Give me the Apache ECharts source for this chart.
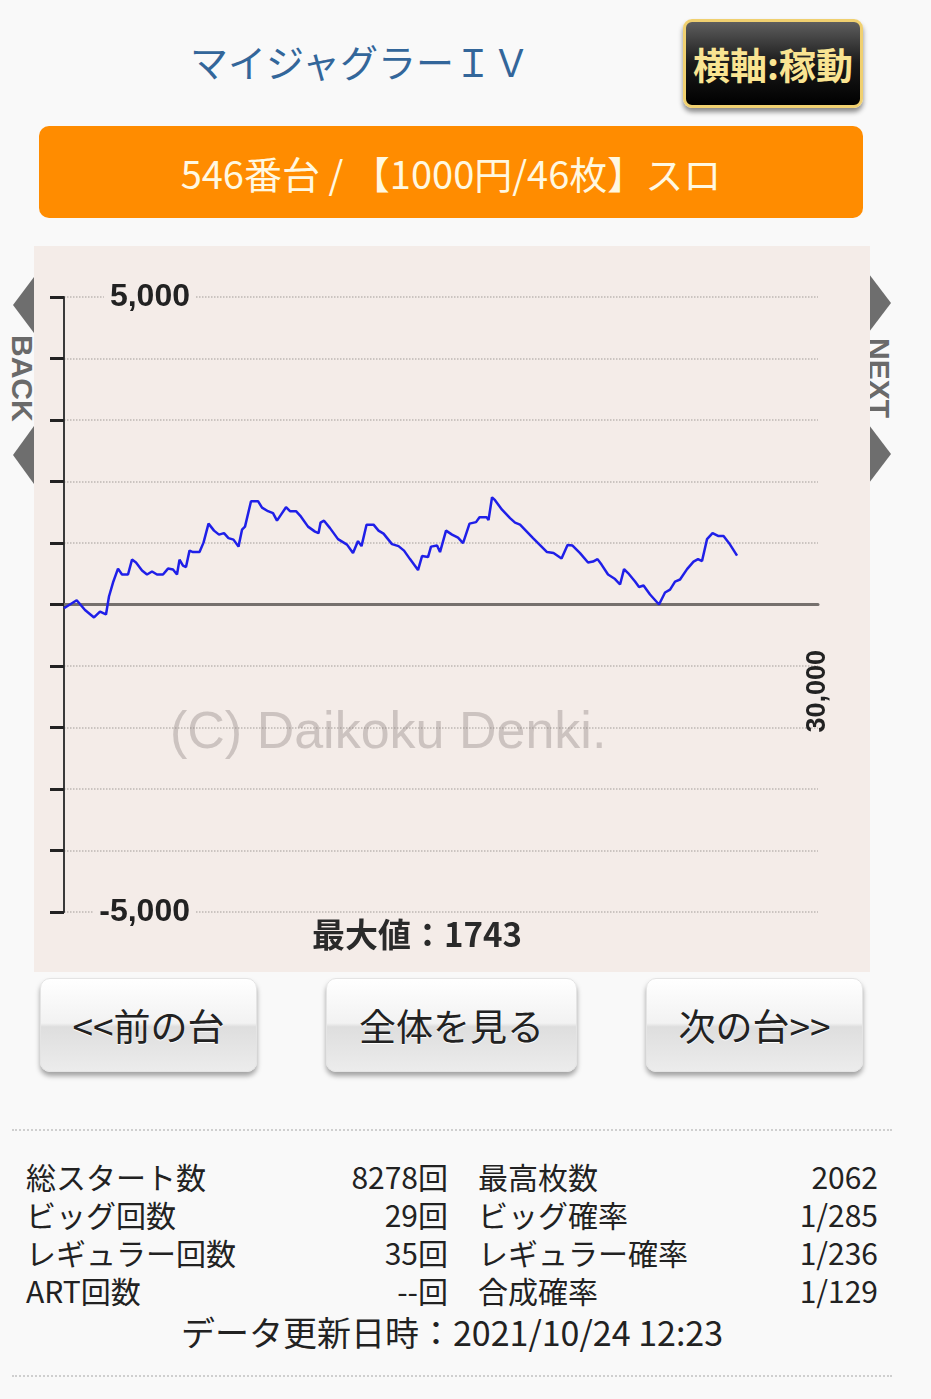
<!DOCTYPE html>
<html>
<head>
<meta charset="utf-8">
<script src="https://cdn.jsdelivr.net/npm/echarts@6/dist/echarts.min.js"></script>
<style>
  html, body { margin: 0; padding: 0; }
  body { width: 931px; height: 1399px; background: #f9f9f9; position: relative; overflow: hidden;
         font-family: "Noto Sans CJK JP", "Noto Sans", sans-serif; }
  .abs { position: absolute; }
  .title { left: 150px; top: 20px; width: 420px; height: 80px; display: flex; align-items: center; justify-content: center;
           color: #33669a; font-size: 38px; }
  .axisbtn { left: 683px; top: 19px; width: 180px; height: 89px; box-sizing: border-box; border: 3px solid #f0d070; border-radius: 9px;
             background: linear-gradient(#5e5e5e, #1a1a1a 50%, #000); box-shadow: 0 4px 5px rgba(0,0,0,.45);
             display: flex; align-items: center; justify-content: center; color: #f9e492; font-size: 37px; font-weight: bold; }
  .bar { left: 39px; top: 126px; width: 824px; height: 92px; background: #ff8c00; border-radius: 10px;
         display: flex; align-items: center; justify-content: center; color: #fff8e1; font-size: 38px; }
  #chart { left: 34px; top: 246px; width: 836px; height: 726px; }
  .tri { width: 0; height: 0; }
  .side { color: #6a6a6a; font-family: "Liberation Sans", Arial, sans-serif; font-weight: bold; font-size: 30px;
          writing-mode: vertical-rl; line-height: 24px; }
  .btn { top: 978px; height: 94px; box-sizing: border-box; border-radius: 10px; border: 1px solid #e4e4e4;
         background: linear-gradient(#ffffff, #f2f2f2 48%, #dedede 52%, #ececec);
         box-shadow: 0 4px 5px rgba(0,0,0,.35); display: flex; align-items: center; justify-content: center;
         color: #222; font-size: 37px; text-shadow: 0 1px 1px #fff; }
  .sep { left: 12px; width: 880px; height: 0; border-top: 2px dotted #cfcfcf; }
  .cell { height: 38px; line-height: 38px; font-size: 30px; color: #222; white-space: nowrap; }
  .r { text-align: right; }
</style>
</head>
<body>
<div class="abs title">マイジャグラーＩＶ</div>
<div class="abs axisbtn">横軸:稼動</div>
<div class="abs bar">546番台 / 【1000円/46枚】スロ</div>

<!-- side arrows -->
<div class="abs tri" style="left:13px;top:277px;border-top:28px solid transparent;border-bottom:28px solid transparent;border-right:21px solid #6e6e6e;"></div>
<div class="abs side" style="left:10px;top:335px;">BACK</div>
<div class="abs tri" style="left:13px;top:426px;border-top:29px solid transparent;border-bottom:29px solid transparent;border-right:21px solid #6e6e6e;"></div>
<div class="abs tri" style="left:869px;top:274px;border-top:29px solid transparent;border-bottom:29px solid transparent;border-left:22px solid #6e6e6e;"></div>
<div class="abs side" style="left:867px;top:338px;">NEXT</div>
<div class="abs tri" style="left:869px;top:425px;border-top:29px solid transparent;border-bottom:29px solid transparent;border-left:22px solid #6e6e6e;"></div>

<div id="chart" class="abs"></div>

<div class="abs btn" style="left:40px;width:217px;">&lt;&lt;前の台</div>
<div class="abs btn" style="left:326px;width:251px;">全体を見る</div>
<div class="abs btn" style="left:646px;width:217px;">次の台&gt;&gt;</div>

<div class="abs sep" style="top:1129px;"></div>
<div id="stats"></div>
<div class="abs sep" style="top:1375px;"></div>

<script>
// ---- data ----
// horizontal axis: 稼動 (play amount), vertical axis: 差枚 (coin difference)
const playCounts = [0, 505, 836, 1194, 1432, 1671, 1790, 1950, 2149, 2308, 2547, 2706, 2865, 3104, 3303, 3502, 3700, 3939, 4138, 4337,
  4496, 4596, 4735, 4854, 4994, 5133, 5392, 5551, 5750, 5969, 6168, 6366, 6545, 6744, 6943, 7083, 7202, 7441, 7719, 7879,
  8117, 8316, 8475, 8635, 8833, 8992, 9231, 9430, 9709, 9987, 10127, 10206, 10345, 10584, 10902, 11260, 11499, 11698, 11838, 12037,
  12315, 12514, 12713, 13051, 13310, 13529, 13767, 14086, 14165, 14245, 14484, 14603, 14842, 14961, 15200, 15439, 15678, 15877, 16135, 16394,
  16533, 16812, 16891, 17031, 17150, 17428, 17747, 17946, 18145, 18662, 19219, 19478, 19796, 20035, 20234, 20532, 20850, 21049, 21228, 21387,
  21646, 21925, 22124, 22283, 22442, 22721, 22880, 23059, 23317, 23675, 23914, 24113, 24312, 24511, 24790, 25048, 25227, 25386, 25585, 25804,
  26043, 26242, 26501, 26779];
const coinDiff = [-60, 70, -90, -211, -114, -162, 130, 357, 584, 487, 487, 730, 682, 552, 487, 536, 487, 487, 584, 568,
  487, 730, 633, 609, 876, 852, 852, 1006, 1315, 1201, 1136, 1160, 1079, 1055, 941, 1217, 1266, 1680, 1680, 1574,
  1517, 1485, 1363, 1461, 1582, 1517, 1517, 1428, 1266, 1185, 1160, 1331, 1363, 1242, 1063, 974, 836, 1031, 949, 1298,
  1298, 1201, 1152, 982, 949, 876, 738, 560, 536, 787, 771, 941, 958, 852, 1201, 1136, 1087, 998, 1315, 1339,
  1420, 1420, 1371, 1743, 1696, 1542, 1404, 1331, 1298, 1079, 852, 836, 747, 966, 958, 836, 682, 698, 738, 649,
  487, 414, 325, 576, 511, 373, 284, 308, 162, 0, 195, 243, 373, 406, 576, 698, 738, 706, 1063, 1160,
  1112, 1112, 974, 795];
const yTicks = [-5000, 5000];          // labelled y ticks
const xMaxLabel = 30000;               // labelled x tick
const watermark = "(C) Daikoku Denki.";

// stats table
const statLabelsL = ["総スタート数", "ビッグ回数", "レギュラー回数", "ART回数"];
const statValuesL = ["8278回", "29回", "35回", "--回"];
const statLabelsR = ["最高枚数", "ビッグ確率", "レギュラー確率", "合成確率"];
const statValuesR = ["2062", "1/285", "1/236", "1/129"];
const updated = "データ更新日時：2021/10/24 12:23";

// ---- stats layout ----
(function () {
  const host = document.getElementById('stats');
  const rowTop = [1157, 1195, 1233, 1271];
  let html = '';
  for (let i = 0; i < 4; i++) {
    html += `<div class="abs cell" style="left:26px;top:${rowTop[i]}px;">${statLabelsL[i]}</div>`;
    html += `<div class="abs cell r" style="left:250px;width:198px;top:${rowTop[i]}px;">${statValuesL[i]}</div>`;
    html += `<div class="abs cell" style="left:478px;top:${rowTop[i]}px;">${statLabelsR[i]}</div>`;
    html += `<div class="abs cell r" style="left:680px;width:198px;top:${rowTop[i]}px;">${statValuesR[i]}</div>`;
  }
  html += `<div class="abs cell" style="left:0;width:904px;text-align:center;top:1313px;font-size:34px;">${updated}</div>`;
  host.innerHTML = html;
})();

// ---- chart ----
const chart = echarts.init(document.getElementById('chart'), null, { renderer: 'canvas' });
const seriesData = playCounts.map((x, i) => [x, coinDiff[i]]);
const maxVal = Math.max.apply(null, coinDiff);
const BG = '#f4ece8';
const fmt = v => (v < 0 ? '-' : '') + Math.abs(v).toString().replace(/\B(?=(\d{3})+(?!\d))/g, ',');

chart.setOption({
  animation: false,
  backgroundColor: BG,
  grid: { left: 30, top: 51, width: 754, height: 615, containLabel: false, outerBoundsMode: 'none' },
  xAxis: {
    type: 'value', min: 0, max: xMaxLabel, interval: xMaxLabel,
    axisLine: { show: true, onZero: true, lineStyle: { color: '#75706d', width: 3 } },
    axisTick: { show: false },
    splitLine: { show: false },
    axisLabel: {
      rotate: 90, margin: -262, color: '#222', fontSize: 27, fontWeight: 'bold',
      fontFamily: 'Liberation Sans', hideOverlap: false,
      formatter: v => (v === xMaxLabel ? fmt(v) : '')
    }
  },
  yAxis: {
    type: 'value', min: -5000, max: 5000, interval: 1000,
    axisLine: { show: true, onZero: false, lineStyle: { color: '#3a3a3a', width: 2 } },
    axisTick: { show: true, length: 14, lineStyle: { color: '#222', width: 3 } },
    splitLine: { show: true, lineStyle: { color: '#bdb7b3', type: 'dotted', width: 1.5 } },
    axisLabel: {
      inside: true, margin: 132, align: 'right', color: '#222', fontSize: 32, fontWeight: 'bold',
      fontFamily: 'Liberation Sans', backgroundColor: BG, padding: [0, 6],
      formatter: v => (yTicks.indexOf(v) >= 0 ? fmt(v) : '')
    }
  },
  graphic: [
    { type: 'text', left: 136, top: 462, z: 1, silent: true,
      style: { text: watermark, fill: 'rgba(140,130,126,0.38)', font: '52px "Liberation Sans"' } },
    { type: 'text', left: 278, top: 672, z: 10,
      style: { text: '最大値：' + maxVal, fill: '#2a2a2a', font: 'bold 33px "Noto Sans CJK JP"' } }
  ],
  series: [{
    type: 'line', data: seriesData, symbol: 'none', z: 5,
    lineStyle: { color: '#1f1fe8', width: 2.5 }
  }]
});
</script>
</body>
</html>
